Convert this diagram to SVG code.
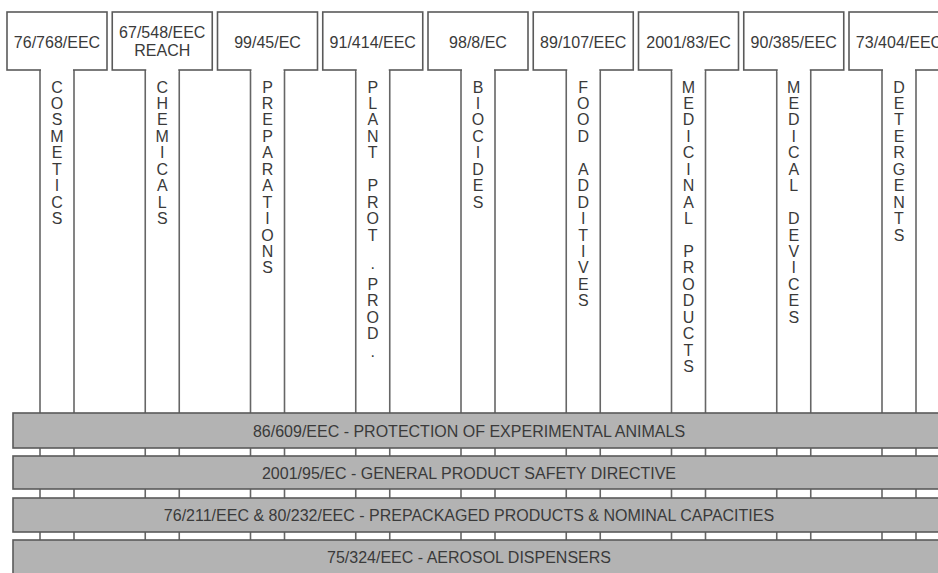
<svg xmlns="http://www.w3.org/2000/svg" width="938" height="573" viewBox="0 0 938 573">
<style>
.box{fill:#fff;stroke:#5a5a5a;stroke-width:1.6}
.cover{fill:#fff;stroke:none}
.stem{stroke:#666;stroke-width:1.6;fill:none}
.bar{fill:#b3b3b3;stroke:#5a5a5a;stroke-width:1.6}
text{font-family:"Liberation Sans",Arial,sans-serif;font-size:16px;fill:#3a3a3a;text-anchor:middle}
</style>
<rect width="938" height="573" fill="#fff"/>
<g id="connectors">
<path class="stem" d="M40 62V573M74 62V573 M145.25 62V573M179.25 62V573 M250.5 62V573M284.5 62V573 M355.75 62V573M389.75 62V573 M461 62V573M495 62V573 M566.25 62V573M600.25 62V573 M671.5 62V573M705.5 62V573 M776.75 62V573M810.75 62V573 M882 62V573M916 62V573"/>
</g>
<g id="n1"><rect class="box" x="7" y="12" width="100" height="58"/><rect class="cover" x="41" y="64" width="32" height="8"/><text x="57" y="47.5">76/768/EEC</text>
<text x="57" y="92.5"><tspan x="57">C</tspan><tspan x="57" dy="16.45">O</tspan><tspan x="57" dy="16.45">S</tspan><tspan x="57" dy="16.45">M</tspan><tspan x="57" dy="16.45">E</tspan><tspan x="57" dy="16.45">T</tspan><tspan x="57" dy="16.45">I</tspan><tspan x="57" dy="16.45">C</tspan><tspan x="57" dy="16.45">S</tspan></text></g>
<g id="n2"><rect class="box" x="112.25" y="12" width="100" height="58"/><rect class="cover" x="146.25" y="64" width="32" height="8"/><text x="162.25" y="37.5">67/548/EEC</text><text x="162.25" y="55.5">REACH</text>
<text x="162.25" y="92.5"><tspan x="162.25">C</tspan><tspan x="162.25" dy="16.45">H</tspan><tspan x="162.25" dy="16.45">E</tspan><tspan x="162.25" dy="16.45">M</tspan><tspan x="162.25" dy="16.45">I</tspan><tspan x="162.25" dy="16.45">C</tspan><tspan x="162.25" dy="16.45">A</tspan><tspan x="162.25" dy="16.45">L</tspan><tspan x="162.25" dy="16.45">S</tspan></text></g>
<g id="n3"><rect class="box" x="217.5" y="12" width="100" height="58"/><rect class="cover" x="251.5" y="64" width="32" height="8"/><text x="267.5" y="47.5">99/45/EC</text>
<text x="267.5" y="92.5"><tspan x="267.5">P</tspan><tspan x="267.5" dy="16.45">R</tspan><tspan x="267.5" dy="16.45">E</tspan><tspan x="267.5" dy="16.45">P</tspan><tspan x="267.5" dy="16.45">A</tspan><tspan x="267.5" dy="16.45">R</tspan><tspan x="267.5" dy="16.45">A</tspan><tspan x="267.5" dy="16.45">T</tspan><tspan x="267.5" dy="16.45">I</tspan><tspan x="267.5" dy="16.45">O</tspan><tspan x="267.5" dy="16.45">N</tspan><tspan x="267.5" dy="16.45">S</tspan></text></g>
<g id="n4"><rect class="box" x="322.75" y="12" width="100" height="58"/><rect class="cover" x="356.75" y="64" width="32" height="8"/><text x="372.75" y="47.5">91/414/EEC</text>
<text x="372.75" y="92.5"><tspan x="372.75">P</tspan><tspan x="372.75" dy="16.45">L</tspan><tspan x="372.75" dy="16.45">A</tspan><tspan x="372.75" dy="16.45">N</tspan><tspan x="372.75" dy="16.45">T</tspan><tspan x="372.75" dy="32.9">P</tspan><tspan x="372.75" dy="16.45">R</tspan><tspan x="372.75" dy="16.45">O</tspan><tspan x="372.75" dy="16.45">T</tspan><tspan x="372.75" dy="28">.</tspan><tspan x="372.75" dy="21.25">P</tspan><tspan x="372.75" dy="16.45">R</tspan><tspan x="372.75" dy="16.45">O</tspan><tspan x="372.75" dy="16.45">D</tspan><tspan x="372.75" dy="17.5">.</tspan></text></g>
<g id="n5"><rect class="box" x="428" y="12" width="100" height="58"/><rect class="cover" x="462" y="64" width="32" height="8"/><text x="478" y="47.5">98/8/EC</text>
<text x="478" y="92.5"><tspan x="478">B</tspan><tspan x="478" dy="16.45">I</tspan><tspan x="478" dy="16.45">O</tspan><tspan x="478" dy="16.45">C</tspan><tspan x="478" dy="16.45">I</tspan><tspan x="478" dy="16.45">D</tspan><tspan x="478" dy="16.45">E</tspan><tspan x="478" dy="16.45">S</tspan></text></g>
<g id="n6"><rect class="box" x="533.25" y="12" width="100" height="58"/><rect class="cover" x="567.25" y="64" width="32" height="8"/><text x="583.25" y="47.5">89/107/EEC</text>
<text x="583.25" y="92.5"><tspan x="583.25">F</tspan><tspan x="583.25" dy="16.45">O</tspan><tspan x="583.25" dy="16.45">O</tspan><tspan x="583.25" dy="16.45">D</tspan><tspan x="583.25" dy="32.9">A</tspan><tspan x="583.25" dy="16.45">D</tspan><tspan x="583.25" dy="16.45">D</tspan><tspan x="583.25" dy="16.45">I</tspan><tspan x="583.25" dy="16.45">T</tspan><tspan x="583.25" dy="16.45">I</tspan><tspan x="583.25" dy="16.45">V</tspan><tspan x="583.25" dy="16.45">E</tspan><tspan x="583.25" dy="16.45">S</tspan></text></g>
<g id="n7"><rect class="box" x="638.5" y="12" width="100" height="58"/><rect class="cover" x="672.5" y="64" width="32" height="8"/><text x="688.5" y="47.5">2001/83/EC</text>
<text x="688.5" y="92.5"><tspan x="688.5">M</tspan><tspan x="688.5" dy="16.45">E</tspan><tspan x="688.5" dy="16.45">D</tspan><tspan x="688.5" dy="16.45">I</tspan><tspan x="688.5" dy="16.45">C</tspan><tspan x="688.5" dy="16.45">I</tspan><tspan x="688.5" dy="16.45">N</tspan><tspan x="688.5" dy="16.45">A</tspan><tspan x="688.5" dy="16.45">L</tspan><tspan x="688.5" dy="32.9">P</tspan><tspan x="688.5" dy="16.45">R</tspan><tspan x="688.5" dy="16.45">O</tspan><tspan x="688.5" dy="16.45">D</tspan><tspan x="688.5" dy="16.45">U</tspan><tspan x="688.5" dy="16.45">C</tspan><tspan x="688.5" dy="16.45">T</tspan><tspan x="688.5" dy="16.45">S</tspan></text></g>
<g id="n8"><rect class="box" x="743.75" y="12" width="100" height="58"/><rect class="cover" x="777.75" y="64" width="32" height="8"/><text x="793.75" y="47.5">90/385/EEC</text>
<text x="793.75" y="92.5"><tspan x="793.75">M</tspan><tspan x="793.75" dy="16.45">E</tspan><tspan x="793.75" dy="16.45">D</tspan><tspan x="793.75" dy="16.45">I</tspan><tspan x="793.75" dy="16.45">C</tspan><tspan x="793.75" dy="16.45">A</tspan><tspan x="793.75" dy="16.45">L</tspan><tspan x="793.75" dy="32.9">D</tspan><tspan x="793.75" dy="16.45">E</tspan><tspan x="793.75" dy="16.45">V</tspan><tspan x="793.75" dy="16.45">I</tspan><tspan x="793.75" dy="16.45">C</tspan><tspan x="793.75" dy="16.45">E</tspan><tspan x="793.75" dy="16.45">S</tspan></text></g>
<g id="n9"><rect class="box" x="849" y="12" width="100" height="58"/><rect class="cover" x="883" y="64" width="32" height="8"/><text x="899" y="47.5">73/404/EEC</text>
<text x="899" y="92.5"><tspan x="899">D</tspan><tspan x="899" dy="16.45">E</tspan><tspan x="899" dy="16.45">T</tspan><tspan x="899" dy="16.45">E</tspan><tspan x="899" dy="16.45">R</tspan><tspan x="899" dy="16.45">G</tspan><tspan x="899" dy="16.45">E</tspan><tspan x="899" dy="16.45">N</tspan><tspan x="899" dy="16.45">T</tspan><tspan x="899" dy="16.45">S</tspan></text></g>
<g id="b1"><rect class="bar" x="13" y="413" width="940" height="35"/><text x="469" y="436.5">86/609/EEC - PROTECTION OF EXPERIMENTAL ANIMALS</text></g>
<g id="b2"><rect class="bar" x="13" y="456" width="940" height="33"/><text x="469" y="478.5">2001/95/EC - GENERAL PRODUCT SAFETY DIRECTIVE</text></g>
<g id="b3"><rect class="bar" x="13" y="498" width="940" height="34"/><text x="469" y="520.5">76/211/EEC &amp; 80/232/EEC - PREPACKAGED PRODUCTS &amp; NOMINAL CAPACITIES</text></g>
<g id="b4"><rect class="bar" x="13" y="540" width="940" height="40"/><text x="469" y="562.5">75/324/EEC - AEROSOL DISPENSERS</text></g>
</svg>
